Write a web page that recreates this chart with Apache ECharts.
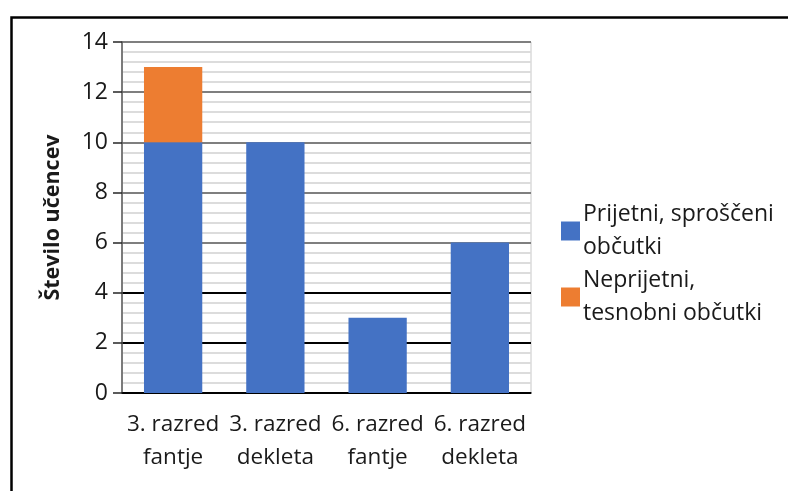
<!DOCTYPE html>
<html>
<head>
<meta charset="utf-8">
<script src="https://cdn.jsdelivr.net/npm/echarts@6/dist/echarts.min.js"></script>
<style>
html,body{margin:0;padding:0;background:#fff;}
#c{width:788px;height:491px;}
</style>
</head>
<body>
<div id="c"></div>
<script>
var categories = ['3. razred\nfantje', '3. razred\ndekleta', '6. razred\nfantje', '6. razred\ndekleta'];
var seriesNames = ['Prijetni, sproščeni\nobčutki', 'Neprijetni,\ntesnobni občutki'];
var pleasant = [10, 10, 3, 6];
var unpleasant = [3, 0, 0, 0];
var yTitle = 'Število učencev';

var FONT = '"Open Sans", "Noto Sans", sans-serif';
var chart = echarts.init(document.getElementById('c'), null, {renderer: 'canvas'});
chart.setOption({
  backgroundColor: '#fff',
  animation: false,
  graphic: [{
    type: 'rect', left: 9, top: 15, silent: true,
    shape: {x: 0, y: 0, width: 900, height: 600},
    style: {fill: 'none', stroke: '#000', lineWidth: 2.5}
  }],
  grid: {left: 122, right: 257, top: 42, bottom: 98, show: true, borderColor: '#c8c8c8', borderWidth: 1, backgroundColor: 'transparent'},
  legend: {
    orient: 'vertical', left: 556, top: 193, itemGap: 0,
    itemWidth: 19, itemHeight: 19, icon: 'rect',
    textStyle: {fontFamily: FONT, fontSize: 23, color: '#1a1a1a', lineHeight: 33, padding: [0, 0, 0, -2]},
    data: seriesNames
  },
  xAxis: {
    type: 'category', data: categories,
    axisLine: {show: true, lineStyle: {color: '#000', width: 1.5}},
    axisTick: {show: false},
    axisLabel: {interval: 0, margin: 15, fontFamily: FONT, fontSize: 22.5, color: '#1a1a1a', lineHeight: 33}
  },
  yAxis: {
    type: 'value', min: 0, max: 14, interval: 2,
    name: yTitle, nameLocation: 'middle', nameGap: 58,
    nameTextStyle: {fontFamily: FONT, fontSize: 21.5, fontWeight: 'bold', color: '#1a1a1a'},
    axisLine: {show: true, lineStyle: {color: '#595959', width: 1.5}},
    axisTick: {show: true, length: 9, lineStyle: {color: '#262626', width: 1.5}},
    axisLabel: {margin: 14, fontFamily: FONT, fontSize: 23, color: '#1a1a1a'},
    splitLine: {show: true, lineStyle: {color: ['#000', '#000', '#000', '#7f7f7f', '#7f7f7f', '#7f7f7f', '#7f7f7f', '#7f7f7f'], width: 2}},
    minorTick: {show: false, splitNumber: 5},
    minorSplitLine: {show: true, lineStyle: {color: '#dcdcdc', width: 2}}
  },
  series: [
    {name: seriesNames[0], type: 'bar', stack: 'a', data: pleasant, barCategoryGap: '43%', itemStyle: {color: '#4472C4'}},
    {name: seriesNames[1], type: 'bar', stack: 'a', data: unpleasant, itemStyle: {color: '#ED7D31'}}
  ]
});
</script>
</body>
</html>
